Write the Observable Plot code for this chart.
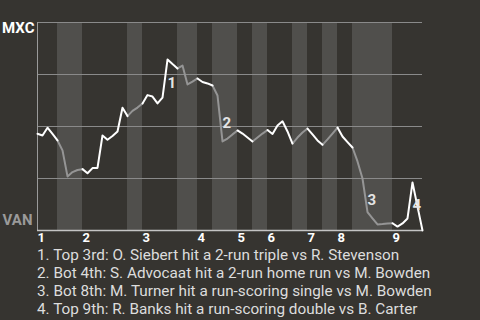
<!DOCTYPE html>
<html><head><meta charset="utf-8">
<script src="https://cdn.jsdelivr.net/npm/d3@7"></script>
<script src="https://cdn.jsdelivr.net/npm/@observablehq/plot@0.6"></script>
<style>
html,body{margin:0;padding:0;background:#363430;width:480px;height:320px;overflow:hidden;font-family:Roboto,sans-serif}
#chart svg{display:block}
#notes{padding-left:37px;color:#ddd;font-size:15.3px;line-height:18px;margin-top:2px}
#notes div{white-space:nowrap}
</style></head><body>
<div id="chart"></div>
<div id="notes"></div>
<script>
const teams = ["MXC", "VAN"];
const innings = ["1","2","3","4","5","6","7","8","9"];
// plate appearances per half-inning (top 1, bot 1, top 2, ...)
const halfPAs = [4,5,9,3,7,4,3,5,3,3,5,3,3,3,3,8,6];
// MXC win probability (%) after each plate appearance
const winProb = [46.5,45.7,49.4,46.4,43.3,38.5,26.0,28.1,29.1,29.5,27.5,30.0,30.1,45.7,43.6,45.4,47.6,59.0,55.0,57.5,59.1,61.1,65.1,64.4,61.1,63.9,82.2,80.0,77.9,79.3,70.2,71.6,73.1,71.4,70.7,69.7,64.9,42.8,44.2,46.2,48.1,46.6,44.7,42.8,44.7,46.6,48.3,46.4,50.5,52.5,47.6,41.8,44.7,47.1,49.0,46.2,43.3,41.2,43.8,46.6,49.5,45.2,42.5,39.9,33.2,25.0,8.8,5.8,2.9,3.1,3.4,3.5,1.9,3.4,5.8,23.1,11.5,0];
const eventIdx = [26, 37, 66, 75];
const eventLabels = ["1","2","3","4"];
const eventNotes = [
  "1. Top 3rd: O. Siebert hit a 2-run triple vs R. Stevenson",
  "2. Bot 4th: S. Advocaat hit a 2-run home run vs M. Bowden",
  "3. Bot 8th: M. Turner hit a run-scoring single vs M. Bowden",
  "4. Top 9th: R. Banks hit a run-scoring double vs B. Carter"
];

// build half-inning segments
const halves = [];
let start = 0;
halfPAs.forEach((n, k) => {
  halves.push({k, x1: start, x2: start + n, top: k % 2 === 0, inning: innings[Math.floor(k/2)]});
  start += n;
});
const total = start;
const rows = [];
halves.forEach(h => {
  for (let i = h.x1; i <= h.x2; i++) rows.push({seg: h.k, top: h.top, x: i, y: winProb[i]});
});
const events = eventIdx.map((i, j) => ({x: i, y: (winProb[i] + winProb[i-1]) / 2, label: eventLabels[j]}));
const inningStarts = halves.filter(h => h.top);

const chart = Plot.plot({
  width: 480, height: 244,
  marginLeft: 37, marginRight: 58, marginTop: 22, marginBottom: 14,
  x: {domain: [0, total], axis: null},
  y: {domain: [0, 100], axis: null},
  style: {background: "transparent", fontFamily: "Roboto, sans-serif"},
  marks: [
    Plot.rect(halves.filter(h => !h.top), {x1: "x1", x2: "x2", fill: "#504f4c"}),
    Plot.ruleY([25, 50, 75, 100], {stroke: "#8a8a8a", strokeWidth: 1}),
    Plot.ruleX([0], {stroke: "#9a9a9a", strokeWidth: 1}),
    Plot.ruleY([0], {stroke: "#c4c4c4", strokeWidth: 1.5}),
    Plot.line(rows.filter(d => !d.top), {x: "x", y: "y", z: "seg", stroke: "#959595", strokeWidth: 2}),
    Plot.line(rows.filter(d => d.top), {x: "x", y: "y", z: "seg", stroke: "#ffffff", strokeWidth: 2}),
    Plot.text(events, {x: "x", y: "y", text: "label", textAnchor: "start", dy: 5, fill: "#e4e4e4", fontSize: 15, fontWeight: "bold"}),
    Plot.text(inningStarts, {x: "x1", y: 0, text: "inning", textAnchor: "start", dy: 7, lineAnchor: "middle", fill: "#ffffff", fontSize: 13, fontWeight: "bold"}),
    Plot.text([teams[0]], {x: 0, y: 100, text: d => d, textAnchor: "end", dx: -3, dy: 6, fill: "#ffffff", fontSize: 15, fontWeight: "bold"}),
    Plot.text([teams[1]], {x: 0, y: 0, text: d => d, textAnchor: "end", dx: -5, dy: -10, fill: "#9a9a9a", fontSize: 15, fontWeight: "bold"})
  ]
});
document.getElementById("chart").appendChild(chart);
const notes = document.getElementById("notes");
eventNotes.forEach(t => { const d = document.createElement("div"); d.textContent = t; notes.appendChild(d); });
</script></body></html>
